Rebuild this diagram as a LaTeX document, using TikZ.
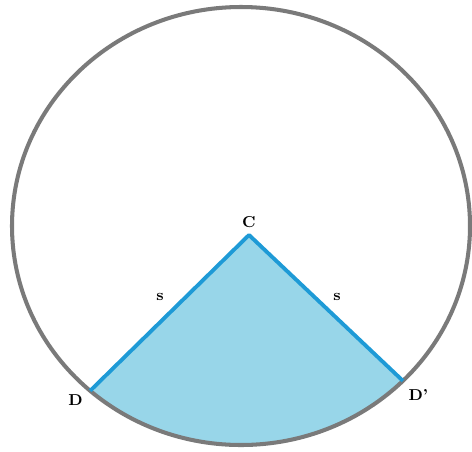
\documentclass[tikz,border=0pt]{standalone}
\usepackage{tikz}
\usetikzlibrary{positioning}
\usetikzlibrary{calc}
\definecolor{rim-gray}{HTML}{7A7A7A}
\definecolor{sector-edge}{HTML}{1E9AD6}
\definecolor{sector-fill}{HTML}{98D6E9}

\begin{document}
\begin{tikzpicture}[
    x=0.02cm, y=0.02cm, % one unit per pixel of the sketch
    font=\small\bfseries
  ]

  % Style definitions
  \tikzset{
    rim/.style={draw=rim-gray, line width=2.3pt},
    radius line/.style={draw=sector-edge, line width=2.2pt, line join=round},
    lbl/.style={inner sep=1pt, text=black}
  }

  \useasboundingbox (0,0) rectangle (472,451);

  % Points on the rim and the apex
  \coordinate (o) at (241,225);
  \coordinate (c) at (249,216);
  \coordinate (d) at ($(o)+(228.8:229 and 219)$);
  \coordinate (dp) at ($(o)+(315:229 and 219)$);

  % Shaded sector
  \fill[sector-fill] (c) -- (d) arc[start angle=228.8, end angle=315, x radius=229, y radius=219] -- cycle;

  % Outer rim
  \draw[rim] (o) ellipse[x radius=229, y radius=219];

  % Two radii
  \draw[radius line] (d) -- (c) -- (dp);

  % Labels
  \node[lbl, above=3pt of c] (lc) {C};
  \node[lbl, below left=1pt and 3pt of d] (ld) {D};
  \node[lbl, below right=4pt and 2pt of dp] (ldp) {D'};
  \node[lbl] (s1) at (160,154) {s};
  \node[lbl] (s2) at (337,154) {s};

\end{tikzpicture}
\end{document}
